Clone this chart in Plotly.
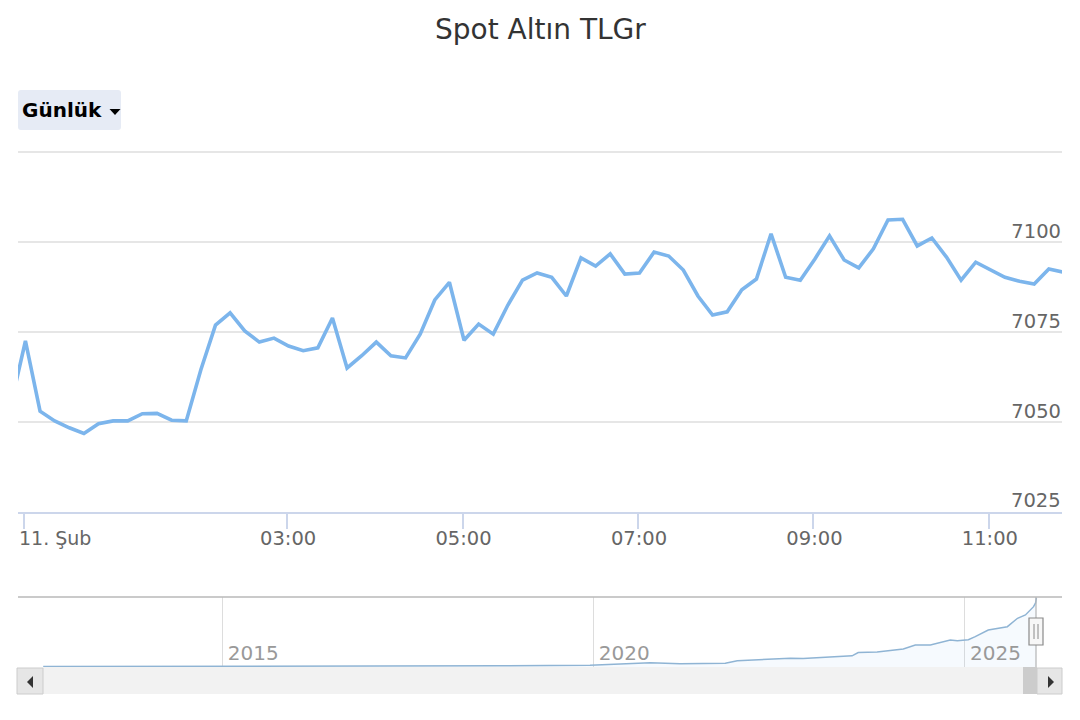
import plotly.graph_objects as go

# ---- data ----
times = ["2026-02-10 23:51"] + [
    f"2026-02-11 {h:02d}:{m:02d}" for h in range(12) for m in (1, 11, 21, 31, 41, 51)
]
prices = [7054.7,
    7072.5, 7053.0, 7050.3, 7048.4, 7046.8, 7049.5, 7050.3, 7050.3, 7052.3, 7052.4, 7050.5, 7050.3,
    7064.5, 7076.9, 7080.3, 7075.3, 7072.2, 7073.3, 7071.1, 7069.8, 7070.6, 7078.9, 7065.0, 7068.4,
    7072.2, 7068.4, 7067.8, 7074.4, 7083.9, 7088.8, 7072.7, 7077.2, 7074.4, 7082.5, 7089.4, 7091.4,
    7090.2, 7085.0, 7095.6, 7093.3, 7096.7, 7091.1, 7091.4, 7097.2, 7096.1, 7092.2, 7085.0, 7079.7,
    7080.6, 7086.7, 7089.7, 7102.3, 7090.2, 7089.4, 7095.3, 7101.7, 7095.0, 7092.8, 7098.1, 7106.1,
    7106.3, 7098.9, 7101.1, 7095.8, 7089.4, 7094.4, 7092.2, 7090.2, 7089.1, 7088.3, 7092.5, 7091.6]
y_ticks = [7025, 7050, 7075, 7100, 7125]
y_labels = ["", "7050", "7075", "7100", ""]
bottom_y_label = "7025"
bottom_y_value = 7025
x_ticks = ["2026-02-11 00:00", "2026-02-11 03:00", "2026-02-11 05:00",
           "2026-02-11 07:00", "2026-02-11 09:00", "2026-02-11 11:00"]
x_labels = ["", "03:00", "05:00", "07:00", "09:00", "11:00"]
first_label = "11. Şub"

nav_dates = ["2012-08-03", "2014-12-22", "2017-05-26", "2018-09-30", "2019-12-16", "2020-06-06",
             "2020-10-08", "2021-03-04", "2021-10-12", "2021-12-10", "2022-04-03", "2022-08-28",
             "2022-10-30", "2023-03-12", "2023-06-28", "2023-07-28", "2023-10-29", "2024-03-06",
             "2024-05-04", "2024-07-17", "2024-10-23", "2024-11-27", "2025-01-20", "2025-02-23",
             "2025-04-28", "2025-07-31", "2025-09-19", "2025-10-28", "2025-12-07", "2025-12-17",
             "2025-12-21"]
nav_values = [40, 50, 80, 130, 175, 310, 430, 340, 380, 650, 770, 895, 875, 1010, 1150, 1490, 1540,
              1850, 2260, 2260, 2780, 2700, 2810, 3118, 3807, 4147, 5011, 5351, 6205, 6586, 7100]
nav_years = ["2015-01-01", "2020-01-01", "2025-01-01"]
nav_labels = ["2015", "2020", "2025"]

title = "Spot Altın TLGr"
period = "Günlük"

W, H = 1080, 720
FONT = "DejaVu Sans"
LINE = "#7cb5ec"


def px(x):
    return x / W


def py(y):
    return 1 - y / H


fig = go.Figure()
fig.add_trace(go.Scatter(x=times, y=prices, mode="lines", xaxis="x", yaxis="y",
                         line=dict(color=LINE, width=3.6), hoverinfo="x+y", showlegend=False))
fig.add_trace(go.Scatter(x=nav_dates, y=nav_values, mode="lines", xaxis="x2", yaxis="y2",
                         line=dict(color="#8fb4d4", width=1.5), fill="tozeroy",
                         fillcolor="rgba(124,181,236,0.07)", hoverinfo="skip", showlegend=False))

shapes = [
    # top line of navigator
    dict(type="line", xref="paper", yref="paper", x0=px(18), x1=px(1062), y0=py(597), y1=py(597),
         line=dict(color="#b8b8b8", width=1.5)),
    # scrollbar track
    dict(type="rect", xref="paper", yref="paper", x0=px(43), x1=px(1037), y0=py(694), y1=py(667),
         fillcolor="#f2f2f2", line=dict(width=0)),
    dict(type="rect", xref="paper", yref="paper", x0=px(1023), x1=px(1037), y0=py(694), y1=py(667),
         fillcolor="#cccccc", line=dict(width=0)),
    # scrollbar buttons
    dict(type="rect", xref="paper", yref="paper", x0=px(17), x1=px(43), y0=py(694), y1=py(668),
         fillcolor="#e6e6e6", line=dict(color="#cccccc", width=1)),
    dict(type="rect", xref="paper", yref="paper", x0=px(1037), x1=px(1062), y0=py(694), y1=py(668),
         fillcolor="#e6e6e6", line=dict(color="#cccccc", width=1)),
    # arrows
    dict(type="path", xref="paper", yref="paper",
         path=f"M {px(33)} {py(676)} L {px(27)} {py(682)} L {px(33)} {py(688)} Z",
         fillcolor="#333333", line=dict(width=0)),
    dict(type="path", xref="paper", yref="paper",
         path=f"M {px(1048)} {py(676)} L {px(1054)} {py(682)} L {px(1048)} {py(688)} Z",
         fillcolor="#333333", line=dict(width=0)),
    # navigator handle
    dict(type="line", xref="paper", yref="paper", x0=px(1036), x1=px(1036), y0=py(597), y1=py(667),
         line=dict(color="#b5b5b5", width=1.2)),
    dict(type="rect", xref="paper", yref="paper", x0=px(1029), x1=px(1043), y0=py(645), y1=py(618),
         fillcolor="#f7f7f7", line=dict(color="#8a8a8a", width=1.2)),
    dict(type="line", xref="paper", yref="paper", x0=px(1034), x1=px(1034), y0=py(624), y1=py(639),
         line=dict(color="#8a8a8a", width=1)),
    dict(type="line", xref="paper", yref="paper", x0=px(1038), x1=px(1038), y0=py(624), y1=py(639),
         line=dict(color="#8a8a8a", width=1)),
    # period button
    dict(type="path", xref="paper", yref="paper",
         path=(f"M {px(21)} {py(90)} L {px(118)} {py(90)} Q {px(121)} {py(90)} {px(121)} {py(93)} "
               f"L {px(121)} {py(127)} Q {px(121)} {py(130)} {px(118)} {py(130)} "
               f"L {px(21)} {py(130)} Q {px(18)} {py(130)} {px(18)} {py(127)} "
               f"L {px(18)} {py(93)} Q {px(18)} {py(90)} {px(21)} {py(90)} Z"),
         fillcolor="#e6ebf5", line=dict(width=0), layer="below"),
    dict(type="path", xref="paper", yref="paper",
         path=f"M {px(109.5)} {py(109)} L {px(120.5)} {py(109)} L {px(115)} {py(115)} Z",
         fillcolor="#000000", line=dict(width=0)),
]

annotations = [
    dict(text=title, xref="paper", yref="paper", x=px(540), y=py(30), xanchor="center", yanchor="middle",
         showarrow=False, font=dict(family=FONT, size=28, color="#333333")),
    dict(text=f"<b>{period}</b>", xref="paper", yref="paper", x=px(20), y=py(110), xanchor="left",
         yanchor="middle", showarrow=False, font=dict(family=FONT, size=20, color="#000000")),
    dict(text=first_label, xref="paper", yref="paper", x=px(17), y=py(538), xanchor="left", yanchor="middle",
         showarrow=False, font=dict(family=FONT, size=19, color="#666666")),
    dict(text=bottom_y_label, xref="paper", yref="y", x=px(1063), y=bottom_y_value, yshift=12, xanchor="right",
         yanchor="middle", showarrow=False, font=dict(family=FONT, size=19.5, color="#666666")),
]

fig.update_layout(
    width=W, height=H, margin=dict(l=0, r=0, t=0, b=0), paper_bgcolor="white", plot_bgcolor="rgba(0,0,0,0)",
    font=dict(family=FONT), showlegend=False, shapes=shapes, annotations=annotations,
    xaxis=dict(domain=[px(18), px(1062)], anchor="y", type="date",
               range=["2026-02-10 23:55:55", "2026-02-11 11:50:01"],
               tickmode="array", tickvals=x_ticks, ticktext=x_labels, ticks="outside", ticklen=15, tickcolor="#ccd6eb",
               tickwidth=1.5, showgrid=False, zeroline=False, showline=True, linecolor="#ccd6eb", linewidth=1.5,
               ticklabelshift=1, ticklabelstandoff=-7,
               tickfont=dict(family=FONT, size=19.5, color="#666666")),
    yaxis=dict(domain=[py(512), py(150.9)], anchor="x", side="right", range=[7025, 7125.3],
               tickmode="array", tickvals=y_ticks, ticktext=y_labels, ticklabelposition="inside",
               ticklabelshift=-11, ticklabelstandoff=-2, showline=False, ticks="", gridcolor="#e6e6e6",
               gridwidth=1.5, zeroline=False,
               tickfont=dict(family=FONT, size=19.5, color="#666666")),
    xaxis2=dict(domain=[px(18), px(1062)], anchor="y2", type="date",
                range=["2012-04-01", "2026-04-26"], tickmode="array", tickvals=nav_years, ticktext=nav_labels,
                ticklabelposition="inside", ticklabelshift=31, ticks="", showgrid=True, gridcolor="#dddddd",
                gridwidth=1.2, zeroline=False, showline=False, side="bottom",
                tickfont=dict(family=FONT, size=20, color="#999999")),
    yaxis2=dict(domain=[py(667), py(597)], anchor="x2", range=[0, 7200], showticklabels=False, showgrid=False,
                zeroline=False, showline=False, ticks=""),
)

fig.write_html("out.html", config={"displayModeBar": False}, post_script="document.body.style.margin='0';")
